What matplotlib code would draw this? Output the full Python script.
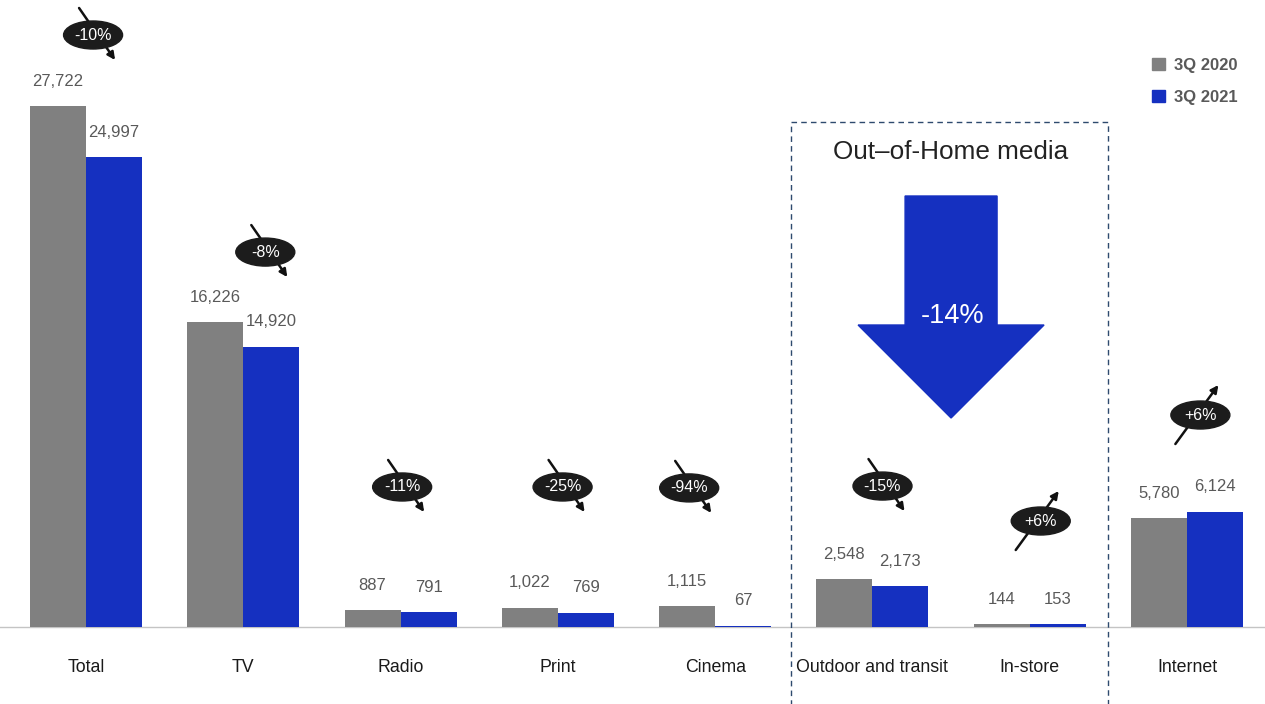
import matplotlib
matplotlib.use("Agg")
import matplotlib.pyplot as plt
from matplotlib.patches import Ellipse, Polygon, Rectangle, Patch

plt.rcParams['font.family'] = ['Liberation Sans', 'DejaVu Sans']

# data
categories = ['Total', 'TV', 'Radio', 'Print', 'Cinema',
              'Outdoor and transit', 'In-store', 'Internet']
q3_2020 = [27722, 16226, 887, 1022, 1115, 2548, 144, 5780]
q3_2021 = [24997, 14920, 791, 769, 67, 2173, 153, 6124]
changes = ['-10%', '-8%', '-11%', '-25%', '-94%', '-15%', '+6%', '+6%']
ooh_change = '-14%'
series_names = ['3Q 2020', '3Q 2021']

GRAY = '#808080'
BLUE = '#1530c0'

# pixel -> data helpers (axes fill the whole figure)
PX_X = 1 / 157.3
PX_Y = 53.21

fig = plt.figure(figsize=(12.65, 7.04), dpi=100)
ax = fig.add_axes([0, 0, 1, 1])
ax.set_xlim(-86 * PX_X, 7 + 78 * PX_X)
ax.set_ylim(-77 * PX_Y, 627 * PX_Y)
ax.axis('off')

x = list(range(len(categories)))
w = 56 * PX_X
ax.bar([i - w / 2 for i in x], q3_2020, width=w, color=GRAY, zorder=2)
ax.bar([i + w / 2 for i in x], q3_2021, width=w, color=BLUE, zorder=2)
ax.axhline(0, color='#c4c4c4', lw=1, zorder=1)

for i in x:
    ax.annotate(f'{q3_2020[i]:,}', (i - w / 2, q3_2020[i]), xytext=(0, 18),
                textcoords='offset points', ha='center', va='center',
                fontsize=12, color='#595959')
    ax.annotate(f'{q3_2021[i]:,}', (i + w / 2, q3_2021[i]), xytext=(0, 18),
                textcoords='offset points', ha='center', va='center',
                fontsize=12, color='#595959')
    ax.text(i, -40 * PX_Y, categories[i], ha='center', va='center',
            fontsize=12.8, color='#1a1a1a')

# change badges
badge_dx = [0.045, 0.14, 0.01, 0.03, -0.165, 0.064, 0.07, 0.085]
badge_y = [31500, 19950, 7450, 7450, 7400, 7500, 5640, 11280]
for i in x:
    cx = i + badge_dx[i]
    cy = badge_y[i]
    if changes[i].startswith('-'):
        start = (cx - 14 * PX_X, cy + 27 * PX_Y)
        end = (cx + 22 * PX_X, cy - 25 * PX_Y)
    else:
        start = (cx - 25 * PX_X, cy - 29 * PX_Y)
        end = (cx + 18 * PX_X, cy + 30 * PX_Y)
    ax.annotate('', xy=end, xytext=start,
                arrowprops=dict(arrowstyle='-|>', lw=1.8, color='#111111',
                                mutation_scale=11, shrinkA=0, shrinkB=0),
                zorder=3)
    ax.add_patch(Ellipse((cx, cy), 59 * PX_X, 28 * PX_Y, color='#1c1c1c', zorder=4))
    ax.text(cx, cy, changes[i], ha='center', va='center', fontsize=11.5,
            color='white', zorder=5)

# Out-of-Home box
box_l, box_r = 4.482, 6.497
box_top = 505 * PX_Y
ax.add_patch(Rectangle((box_l, -200 * PX_Y), box_r - box_l, box_top + 200 * PX_Y,
                       fill=False, ls=(0, (4, 3)), lw=1, edgecolor='#2e4a6e', zorder=1))
ax.text(5.5, 475 * PX_Y, 'Out\u2013of-Home media', ha='center', va='center',
        fontsize=18.8, color='#222222')

# big arrow
ac = 5.5
shaft = 46 * PX_X
head = 93 * PX_X
top, neck, tip = 431 * PX_Y, 302 * PX_Y, 209 * PX_Y
ax.add_patch(Polygon([(ac - shaft, top), (ac + shaft, top), (ac + shaft, neck),
                      (ac + head, neck), (ac, tip), (ac - head, neck),
                      (ac - shaft, neck)], closed=True, color=BLUE, zorder=3))
ax.text(ac + 1 * PX_X, 311 * PX_Y, ooh_change, ha='center', va='center', fontsize=19.5,
        color='white', zorder=4)

# legend
handles = [Patch(color=GRAY), Patch(color=BLUE)]
leg = ax.legend(handles, series_names, loc='upper left',
                bbox_to_anchor=(1137 / 1265, 1 - 43 / 704), frameon=False,
                handlelength=0.75, handleheight=0.75, handletextpad=0.6,
                labelspacing=1.0, prop={'size': 12, 'weight': 'bold'})
for t in leg.get_texts():
    t.set_color('#595959')

fig.savefig('out.png', dpi=100)
